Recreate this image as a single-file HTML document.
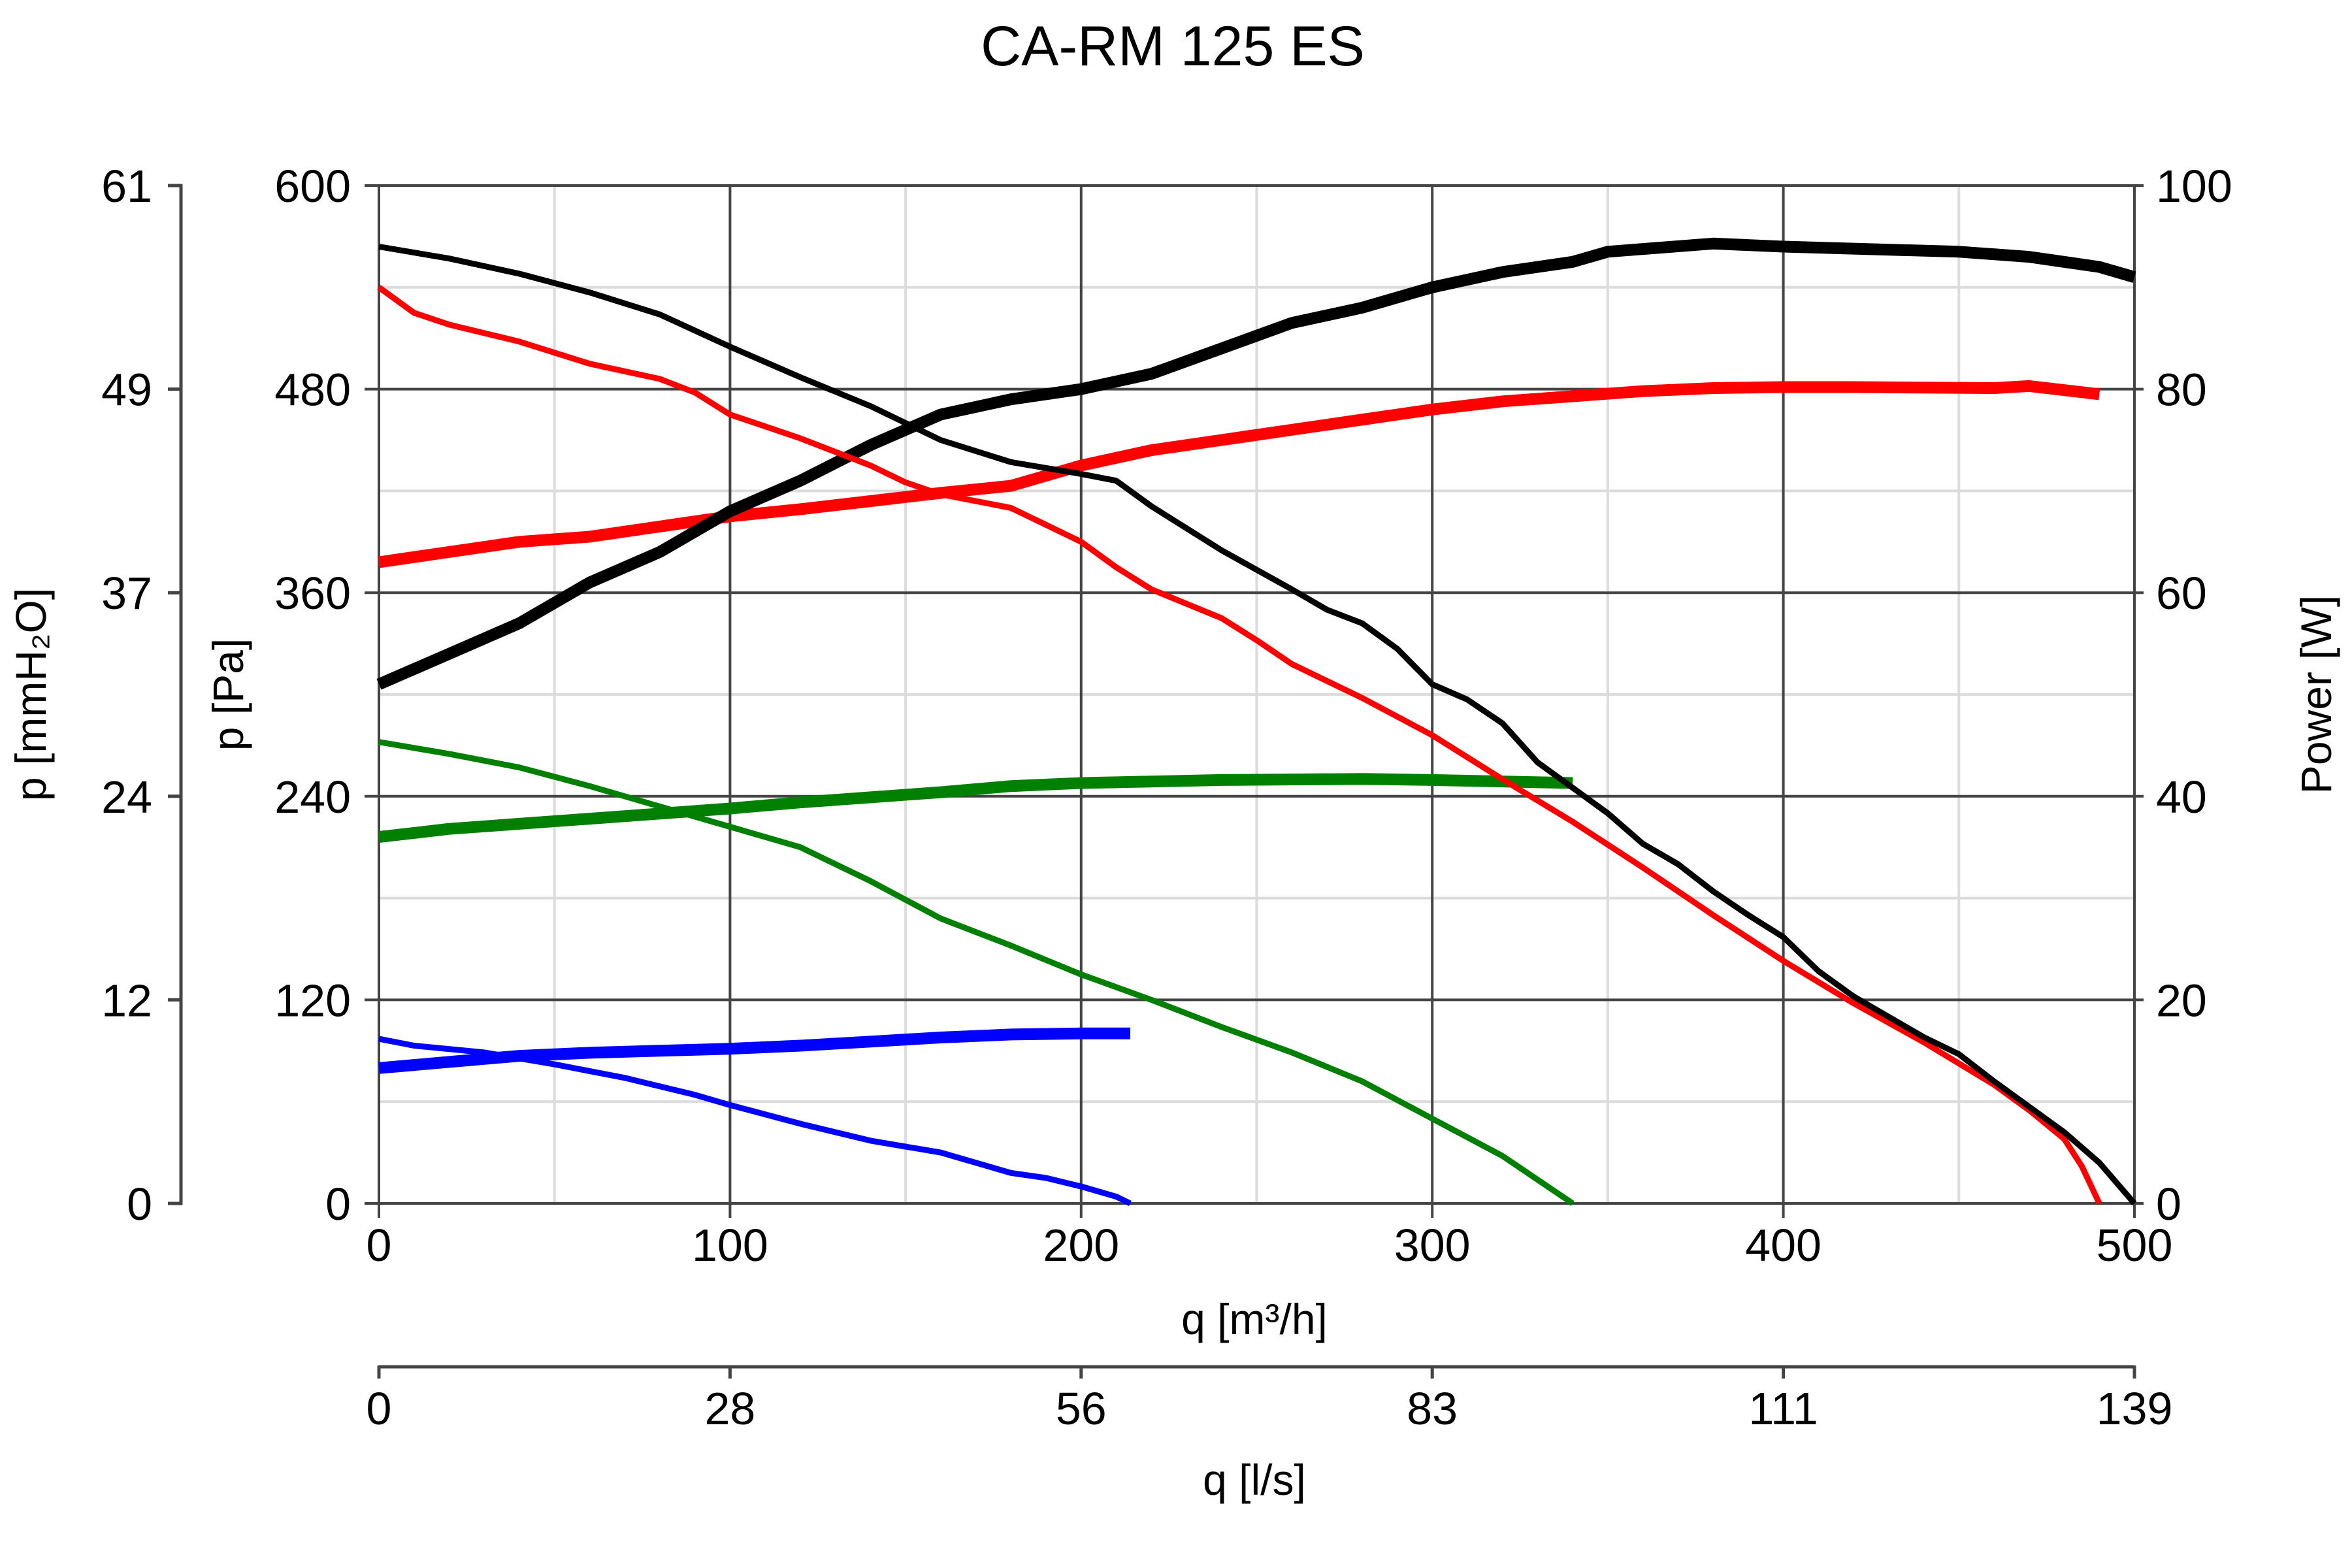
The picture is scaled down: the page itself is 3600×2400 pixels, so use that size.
<!DOCTYPE html>
<html><head><meta charset="utf-8"><style>
html,body{margin:0;padding:0;background:#fff;}
svg{display:block;font-family:"Liberation Sans",Arial,sans-serif;}
</style></head><body>
<svg id="chart" width="3600" height="2400" viewBox="0 0 3600 2400" xmlns="http://www.w3.org/2000/svg">
<rect width="3600" height="2400" fill="#fff"/>
<text x="1795" y="100" font-size="86" text-anchor="middle">CA-RM 125 ES</text>
<g id="grid"></g>
<g id="axes"></g>
<g id="series"></g>
<text transform="translate(70,1063) rotate(-90)" font-size="66" text-anchor="middle">p [mmH₂O]</text>
<text transform="translate(372,1063) rotate(-90)" font-size="66" text-anchor="middle">p [Pa]</text>
<text transform="translate(3568,1063) rotate(-90)" font-size="66" text-anchor="middle">Power [W]</text>
<text x="1920" y="2042" font-size="66" text-anchor="middle">q [m³/h]</text>
<text x="1920" y="2288" font-size="66" text-anchor="middle">q [l/s]</text>
</svg>
<script>
const xTicks=[0,100,200,300,400,500];
const lsLabels=["0","28","56","83","111","139"];
const paTicks=[0,120,240,360,480,600];
const mmLabels=["0","12","24","37","49","61"];
const wLabels=["0","20","40","60","80","100"];
const blackPQ=[0,20,40,60,80,100,120,140,160,180,200,210,220,240,260,270,280,290,300,310,320,330,340,350,360,370,380,390,400,410,420,430,440,450,460,470,480,490,495,500];
const blackPV=[564,557,548,537,524,505,487,470,450,437,430,426,411,385,362,350,342,327,306,297,283,260,245,230,212,200,184,170,157,137,122,110,98,88,72,57,42,24,12,0];
const redPQ=[0,10,20,40,60,80,90,100,120,140,150,160,180,190,200,210,220,240,250,260,280,300,320,340,360,380,400,420,440,460,470,480,485,490];
const redPV=[540,525,518,508,495,486,478,465,451,435,425,418,410,400,390,375,362,345,332,318,298,276,250,225,198,170,143,118,95,70,55,38,22,0];
const greenPQ=[0,20,40,60,80,100,120,140,160,180,200,220,240,260,280,300,320,340];
const greenPV=[272,265,257,246,234,222,210,190,168,152,135,120,104,89,72,50,28,0];
const bluePQ=[0,10,30,50,70,90,100,120,140,160,170,180,190,200,210,214];
const bluePV=[97,93,89,82,74,64,58,47,37,30,24,18,15,10,4,0];
const blackWQ=[0,20,40,60,80,100,120,140,160,180,200,220,240,260,280,300,320,340,350,380,400,420,450,470,490,500];
const blackWV=[51,54,57,61,64,68,71,74.5,77.5,79,80,81.5,84,86.5,88,90,91.5,92.5,93.5,94.3,94,93.8,93.5,93,92,91];
const redWQ=[0,20,40,60,80,100,120,140,160,180,200,220,240,260,280,300,320,340,360,380,400,420,460,470,490];
const redWV=[63,64,65,65.5,66.5,67.5,68.2,69,69.8,70.5,72.5,74,75,76,77,78,78.8,79.3,79.8,80.1,80.2,80.2,80.1,80.3,79.5];
const greenWQ=[0,20,40,60,80,100,120,140,160,180,200,240,280,300,340];
const greenWV=[36,36.8,37.3,37.8,38.3,38.8,39.4,39.9,40.4,41,41.3,41.6,41.7,41.6,41.3];
const blueWQ=[0,20,40,60,80,100,120,140,160,180,200,214];
const blueWV=[13.3,13.9,14.5,14.8,15,15.2,15.5,15.9,16.3,16.6,16.7,16.7];

const L=580,R=3267,T=284,B=1842;
const sx=q=>L+(q/500)*(R-L);
const sy=p=>B-(p/600)*(B-T);
const sw=w=>B-(w/100)*(B-T);
const NS="http://www.w3.org/2000/svg";
function mk(parent,tag,attrs,txt){const e=document.createElementNS(NS,tag);for(const k in attrs)e.setAttribute(k,attrs[k]);if(txt!==undefined)e.textContent=txt;parent.appendChild(e);return e;}
const grid=document.getElementById('grid'),axes=document.getElementById('axes'),series=document.getElementById('series');
for(let q=50;q<500;q+=100){const l=mk(grid,'line',{x1:sx(q),x2:sx(q),y1:T,y2:B,stroke:'#dcdcdc','stroke-width':4});

}
for(let p=60;p<600;p+=120){const l=mk(grid,'line',{x1:L,x2:R,y1:sy(p),y2:sy(p),stroke:'#dcdcdc','stroke-width':4});

}
xTicks.forEach(q=>{const l=mk(grid,'line',{x1:sx(q),x2:sx(q),y1:T,y2:B+22,stroke:'#444','stroke-width':4});

});
paTicks.forEach(p=>{const l=mk(grid,'line',{x1:L-22,x2:R+14,y1:sy(p),y2:sy(p),stroke:'#444','stroke-width':4});

});
xTicks.forEach(q=>{const t=mk(axes,'text',{x:sx(q),y:1930,'font-size':70,'text-anchor':'middle'},String(q));

});
paTicks.forEach((p,i)=>{const t=mk(axes,'text',{x:537,y:sy(p)+25,'font-size':70,'text-anchor':'end'},String(p));


const m=mk(axes,'text',{x:233,y:sy(p)+25,'font-size':70,'text-anchor':'end'},mmLabels[i]);


const w=mk(axes,'text',{x:3300,y:sy(p)+25,'font-size':70,'text-anchor':'start'},wLabels[i]);


const tk=mk(axes,'line',{x1:257,x2:279,y1:sy(p),y2:sy(p),stroke:'#444','stroke-width':5});

});
const mmAxis=mk(axes,'line',{x1:277,x2:277,y1:T-2,y2:B+2,stroke:'#444','stroke-width':5});


const lsAxis=mk(axes,'line',{x1:L,x2:R,y1:2092,y2:2092,stroke:'#444','stroke-width':5});


xTicks.forEach((q,i)=>{const tk=mk(axes,'line',{x1:sx(q),x2:sx(q),y1:2090,y2:2110,stroke:'#444','stroke-width':5});


const t=mk(axes,'text',{x:sx(q),y:2180,'font-size':70,'text-anchor':'middle'},lsLabels[i]);

});
function draw(qs,vs,scale,color,width,name){
 const d=qs.map((q,i)=>(i?'L':'M')+sx(q).toFixed(1)+','+scale(vs[i]).toFixed(1)).join(' ');
 const p=mk(series,'path',{d:d,fill:'none',stroke:color,'stroke-width':width,'stroke-linejoin':'round','stroke-linecap':'butt'});
 
 
}
draw(greenWQ,greenWV,sw,'#008000',18,'green-power-curve');
draw(blueWQ,blueWV,sw,'#0000ff',18,'blue-power-curve');
draw(redWQ,redWV,sw,'#ff0000',18,'red-power-curve');
draw(blackWQ,blackWV,sw,'#000',18,'black-power-curve');
draw(greenPQ,greenPV,sy,'#008000',9,'green-pressure-curve');
draw(bluePQ,bluePV,sy,'#0000ff',9,'blue-pressure-curve');
draw(redPQ,redPV,sy,'#ff0000',9,'red-pressure-curve');
draw(blackPQ,blackPV,sy,'#000',9,'black-pressure-curve');
</script>
</body></html>
